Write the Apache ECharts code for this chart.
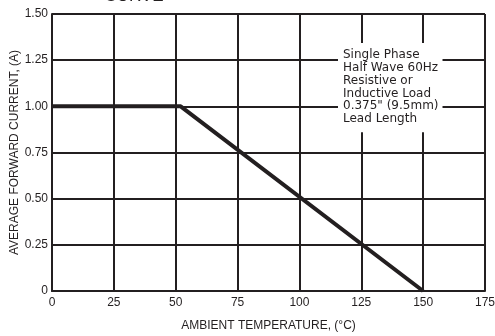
<!DOCTYPE html>
<html>
<head>
<meta charset="utf-8">
<script src="https://cdn.jsdelivr.net/npm/echarts@6/dist/echarts.min.js"></script>
<style>
  html, body { margin: 0; padding: 0; background: #fff; }
  #chart { width: 495px; height: 336px; }
</style>
</head>
<body>
<div id="chart"></div>
<script>
// derating curve points (temperature degC, current A)
var temps = [0, 52, 150];
var currents = [1.0, 1.0, 0];
var xTicks = [0, 25, 50, 75, 100, 125, 150, 175];
var yTicks = [0, 0.25, 0.5, 0.75, 1.0, 1.25, 1.5];
var noteLines = ['Single Phase', 'Half Wave 60Hz', 'Resistive or', 'Inductive Load', '0.375" (9.5mm)', 'Lead Length'];

var ink = '#231f20';
var font = 'Liberation Sans, Arial, sans-serif';

var chart = echarts.init(document.getElementById('chart'));

var pts = temps.map(function(t, i) { return [t, currents[i]]; });

var option = {
    animation: false,
    backgroundColor: '#fff',
    grid: {
        left: 52,
        right: 10,
        top: 14,
        bottom: 45,
        containLabel: false,
        outerBoundsMode: 'none'
    },
    xAxis: {
        type: 'value',
        min: xTicks[0],
        max: xTicks[xTicks.length - 1],
        interval: 25,
        name: 'AMBIENT TEMPERATURE, (°C)',
        nameLocation: 'middle',
        nameGap: 29,
        nameMoveOverlap: false,
        nameTextStyle: { color: ink, fontSize: 12, fontFamily: font },
        axisLine: { show: true, lineStyle: { color: ink, width: 2 } },
        axisTick: { show: false },
        axisLabel: { color: ink, fontSize: 12, fontFamily: font, margin: 6 },
        splitLine: { show: true, lineStyle: { color: ink, width: 2 } }
    },
    yAxis: {
        type: 'value',
        min: yTicks[0],
        max: yTicks[yTicks.length - 1],
        interval: 0.25,
        name: 'AVERAGE FORWARD CURRENT, (A)',
        nameLocation: 'middle',
        nameGap: 31,
        nameMoveOverlap: false,
        nameTextStyle: { color: ink, fontSize: 12, fontFamily: font },
        axisLine: { show: true, lineStyle: { color: ink, width: 2 } },
        axisTick: { show: false },
        axisLabel: {
            color: ink, fontSize: 12, fontFamily: font, margin: 4,
            formatter: function(v) { return v === 0 ? '0' : v.toFixed(2); }
        },
        splitLine: { show: true, lineStyle: { color: ink, width: 2 } }
    },
    graphic: [
        {
            type: 'text',
            x: 134,
            y: 5,
            style: {
                text: 'CURVE',
                fill: ink,
                font: '17px ' + font,
                textAlign: 'center',
                textVerticalAlign: 'bottom'
            }
        },
        {
            type: 'text',
            x: 338,
            y: 43,
            z: 10,
            style: {
                text: noteLines.join('\n'),
                fill: ink,
                font: '12px DejaVu Sans, sans-serif',
                lineHeight: 12.7,
                backgroundColor: '#fff',
                padding: [6, 4, 7, 5]
            }
        }
    ],
    series: [{
        type: 'line',
        data: pts,
        symbol: 'none',
        lineStyle: { color: ink, width: 4 },
        z: 5
    }]
};

chart.setOption(option);
</script>
</body>
</html>
